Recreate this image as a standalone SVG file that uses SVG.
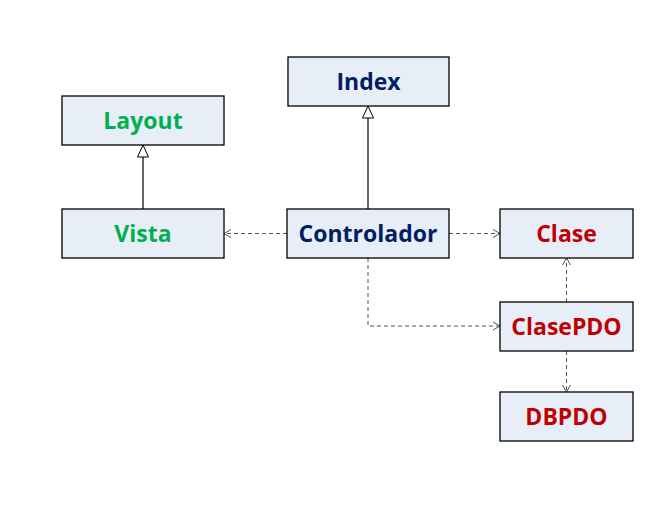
<svg xmlns="http://www.w3.org/2000/svg" width="669" height="518" viewBox="0 0 669 518">
<defs>
<style>
.box{fill:#E8EEF8;stroke:#000;stroke-width:1.3}
.t{font-family:"Open Sans","Liberation Sans",sans-serif;font-weight:bold;font-size:23px;text-anchor:middle;dominant-baseline:central}
.navy{fill:#002060}.green{fill:#00B050}.red{fill:#C00000}
.solid{stroke:#000;stroke-width:1.2;fill:none}
.dash{stroke:#555;stroke-width:1;stroke-dasharray:4 3;fill:none}
</style>
<marker id="tri" viewBox="0 0 14 12" refX="13" refY="6" markerWidth="14" markerHeight="12" markerUnits="userSpaceOnUse" orient="auto">
<path d="M1,0.5 L13,6 L1,11.5 Z" fill="#fff" stroke="#000" stroke-width="1"/>
</marker>
<marker id="open" viewBox="0 0 10 10" refX="9" refY="5" markerWidth="10" markerHeight="10" markerUnits="userSpaceOnUse" orient="auto">
<path d="M2,1 L9,5 L2,9" fill="none" stroke="#555" stroke-width="1"/>
</marker>
</defs>
<rect width="669" height="518" fill="#fff"/>
<g id="connectors">
<line class="solid" x1="143" y1="209" x2="143" y2="145" marker-end="url(#tri)"/>
<line class="solid" x1="368" y1="209" x2="368" y2="106" marker-end="url(#tri)"/>
<line class="dash" x1="287" y1="233.5" x2="224" y2="233.5" marker-end="url(#open)"/>
<line class="dash" x1="449" y1="233.5" x2="500" y2="233.5" marker-end="url(#open)"/>
<polyline class="dash" points="368,258 368,326 500,326" marker-end="url(#open)"/>
<line class="dash" x1="566.5" y1="302" x2="566.5" y2="258" marker-end="url(#open)"/>
<line class="dash" x1="566.5" y1="351" x2="566.5" y2="392" marker-end="url(#open)"/>
</g>
<g id="index"><rect class="box" x="288" y="57" width="161" height="49"/><text class="t navy" x="368.5" y="81">Index</text></g>
<g id="layout"><rect class="box" x="62" y="96" width="162" height="49"/><text class="t green" x="143" y="120">Layout</text></g>
<g id="vista"><rect class="box" x="62" y="209" width="162" height="49"/><text class="t green" x="143" y="233">Vista</text></g>
<g id="controlador"><rect class="box" x="287" y="209" width="162" height="49"/><text class="t navy" x="368" y="233">Controlador</text></g>
<g id="clase"><rect class="box" x="500" y="209" width="133" height="49"/><text class="t red" x="566.5" y="233">Clase</text></g>
<g id="clasepdo"><rect class="box" x="500" y="302" width="133" height="49"/><text class="t red" x="566.5" y="326">ClasePDO</text></g>
<g id="dbpdo"><rect class="box" x="500" y="392" width="133" height="49"/><text class="t red" x="566.5" y="416">DBPDO</text></g>
</svg>
